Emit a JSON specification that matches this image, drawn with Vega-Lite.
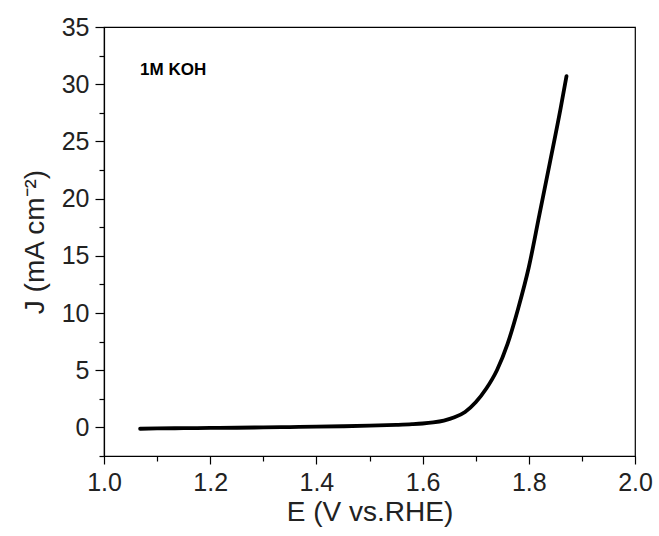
{
  "$schema": "https://vega.github.io/schema/vega-lite/v6.json",
  "autosize": "none",
  "width": 531,
  "height": 429,
  "padding": {"left": 104, "top": 27, "right": 24, "bottom": 80},
  "background": "white",
  "config": {
    "view": {"stroke": "black", "strokeWidth": 1.2},
    "font": "Liberation Sans",
    "axis": {
      "domainColor": "black", "domainWidth": 1.2, "tickColor": "black", "tickWidth": 1.2, "grid": false,
      "labelFont": "Liberation Sans", "labelFontSize": 25, "labelColor": "#222", "labelFlush": false,
      "titleFont": "Liberation Sans", "titleFontSize": 28, "titleFontWeight": "normal", "titleColor": "#222"
    }
  },
  "datasets": {
    "lsv": [
      {"E": 1.068, "J": -0.12},
      {"E": 1.10, "J": -0.09},
      {"E": 1.15, "J": -0.07},
      {"E": 1.20, "J": -0.05},
      {"E": 1.25, "J": -0.03},
      {"E": 1.30, "J": 0.0},
      {"E": 1.35, "J": 0.03},
      {"E": 1.40, "J": 0.06},
      {"E": 1.45, "J": 0.10},
      {"E": 1.50, "J": 0.15},
      {"E": 1.55, "J": 0.22},
      {"E": 1.58, "J": 0.28},
      {"E": 1.60, "J": 0.34},
      {"E": 1.62, "J": 0.44},
      {"E": 1.64, "J": 0.6},
      {"E": 1.66, "J": 0.88},
      {"E": 1.68, "J": 1.35},
      {"E": 1.70, "J": 2.2},
      {"E": 1.72, "J": 3.4},
      {"E": 1.74, "J": 5.0},
      {"E": 1.76, "J": 7.3},
      {"E": 1.78, "J": 10.4},
      {"E": 1.80, "J": 14.0},
      {"E": 1.82, "J": 18.6},
      {"E": 1.84, "J": 23.2},
      {"E": 1.86, "J": 27.9},
      {"E": 1.871, "J": 30.7}
    ],
    "label": [{"E": 1.068, "J": 30.8, "text": "1M KOH"}]
  },
  "resolve": {"axis": {"x": "independent", "y": "independent"}},
  "layer": [
    {
      "data": {"name": "lsv"},
      "mark": {"type": "line", "color": "black", "strokeWidth": 3.8, "strokeCap": "round", "strokeJoin": "round", "interpolate": "monotone"},
      "encoding": {
        "x": {
          "field": "E", "type": "quantitative",
          "scale": {"domain": [1.0, 2.0], "nice": false, "zero": false},
          "axis": {
            "orient": "bottom",
            "title": "E (V vs.RHE)",
            "values": [1.0, 1.2, 1.4, 1.6, 1.8, 2.0],
            "format": ".1f",
            "tickSize": 8,
            "labelPadding": 6,
            "titlePadding": 3
          }
        },
        "y": {
          "field": "J", "type": "quantitative",
          "scale": {"domain": [-2.5, 35], "nice": false, "zero": false},
          "axis": {
            "orient": "left",
            "title": "J (mA cm⁻²)",
            "values": [0, 5, 10, 15, 20, 25, 30, 35],
            "format": "d",
            "tickSize": 9,
            "labelPadding": 6,
            "titlePadding": 12
          }
        }
      }
    },
    {
      "data": {"name": "label"},
      "mark": {"type": "text", "align": "left", "baseline": "alphabetic", "fontSize": 17, "fontWeight": "bold", "font": "Liberation Sans", "color": "black"},
      "encoding": {
        "x": {
          "field": "E", "type": "quantitative",
          "axis": {"orient": "bottom", "title": null, "labels": false, "domain": false, "values": [1.1, 1.3, 1.5, 1.7, 1.9], "tickSize": 5}
        },
        "y": {
          "field": "J", "type": "quantitative",
          "axis": {"orient": "left", "title": null, "labels": false, "domain": false, "values": [-2.5, 2.5, 7.5, 12.5, 17.5, 22.5, 27.5, 32.5], "tickSize": 5}
        },
        "text": {"field": "text"}
      }
    }
  ]
}
